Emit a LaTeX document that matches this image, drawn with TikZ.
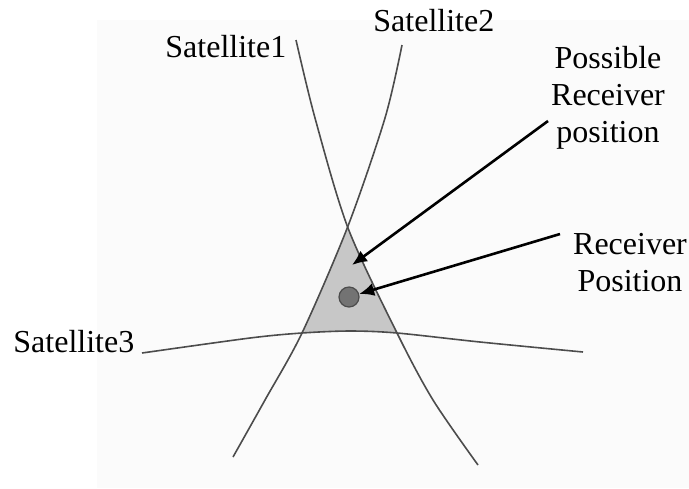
\documentclass[tikz,border=0pt]{standalone}
\usepackage{fontspec}
\setmainfont{Liberation Serif}
\usetikzlibrary{arrows.meta}

\begin{document}
\begin{tikzpicture}[
  x=0.5pt, y=-0.5pt,
  font=\fontsize{16}{18.5}\selectfont,
  satname/.style={inner sep=0pt, anchor=base west},
  note/.style={inner sep=0pt, anchor=north, align=center},
  orbit/.style={draw=black!70, line width=0.8pt},
  region/.style={fill=black!22},
  arrow/.style={-{Latex[length=7.5pt, width=6.5pt]}, line width=1.3pt},
  receiver/.style={circle, draw=black!70, fill=black!55, minimum size=10pt, inner sep=0pt, line width=0.6pt}
]
\useasboundingbox (0,0) rectangle (689,488);
\fill[black!1.5] (97,20) rectangle (689,488);

% area common to the three spheres
\begin{scope}
  \clip plot[smooth] coordinates {(296,40) (315,118) (348,228) (397,333) (433,400) (478,465)} -- (0,465) -- (0,40) -- cycle;
  \clip plot[smooth] coordinates {(402,45) (385,118) (348,226) (302,333) (265,400) (233,457)} -- (689,457) -- (689,45) -- cycle;
  \clip plot[smooth] coordinates {(142,353) (250,338) (302,333) (350,331) (397,333) (480,342) (583,352)} -- (583,0) -- (142,0) -- cycle;
  \fill[region] (0,0) rectangle (689,488);
\end{scope}

% range curves
\draw[orbit] plot[smooth] coordinates {(296,40) (315,118) (348,228) (397,333) (433,400) (478,465)};
\draw[orbit] plot[smooth] coordinates {(402,45) (385,118) (348,226) (302,333) (265,400) (233,457)};
\draw[orbit] plot[smooth] coordinates {(142,353) (250,338) (302,333) (350,331) (397,333) (480,342) (583,352)};

\node[satname] (sat1) at (165,57) {Satellite1};
\node[satname] (sat2) at (373,31) {Satellite2};
\node[satname] (sat3) at (13,352) {Satellite3};

\node[note] (possible) at (608,46) {Possible\\Receiver\\position};
\node[note] (recpos) at (630,233) {Receiver\\Position};

\node[receiver] (dot) at (349,297) {};
\coordinate (fix) at (352,265);
\coordinate (p1) at (548,121);
\coordinate (p2) at (560,234);

\draw[arrow] (p1) -- (fix);
\draw[arrow] (p2) -- (dot);
\end{tikzpicture}
\end{document}
